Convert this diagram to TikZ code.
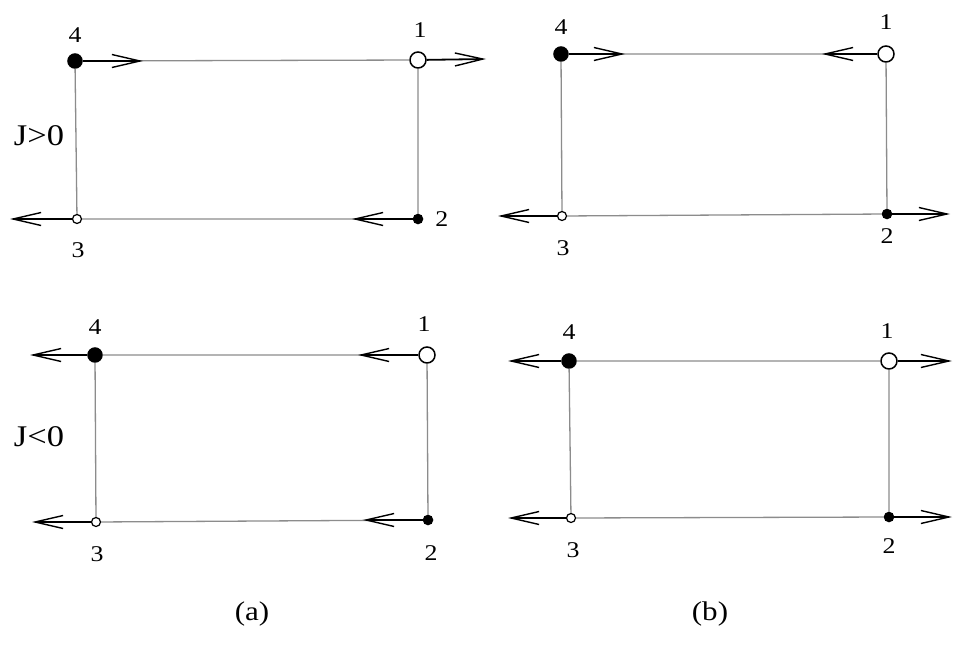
\documentclass[tikz,border=0pt]{standalone}
\usepackage{fontspec}
\setmainfont{Liberation Serif}[FakeStretch=1.15]
\usetikzlibrary{arrows.meta,positioning}
\definecolor{bondgray}{HTML}{8C8C8C}
\tikzset{
  site/.style={circle, draw, line width=1.5pt, inner sep=0pt},
  bigfull/.style={site, fill=black, minimum size=14pt},
  bigopen/.style={site, fill=white, minimum size=16pt},
  smallfull/.style={site, fill=black, minimum size=9pt},
  smallopen/.style={site, fill=white, line width=1.2pt, minimum size=9pt},
  num/.style={inner sep=0pt, font=\fontsize{22.5}{22.5}\selectfont},
  sign/.style={inner sep=0pt, font=\fontsize{30}{30}\selectfont},
  panel/.style={inner sep=0pt, font=\fontsize{27}{27}\selectfont},
  bond/.style={bondgray, line width=1.3pt},
  spin/.style={line width=1.8pt, -{Straight Barb[length=28pt, width=13pt, line width=1.4pt]}},
}
\begin{document}
\begin{tikzpicture}[x=1pt, y=-1pt]
  \fill[white] (0,0) rectangle (959,645);
  \useasboundingbox (0,0) rectangle (959,645);

  % (a), J>0
  \node[bigfull]   (pa4) at (75,61) {};
  \node[bigopen]   (pa1) at (418,60) {};
  \node[smallopen] (pa3) at (77,219) {};
  \node[smallfull] (pa2) at (418,219) {};
  \node[num, above=10.5pt of pa4] (pa4l) {4};
  \node[num, above=14pt of pa1, xshift=2pt] (pa1l) {1};
  \node[num, below=18pt of pa3, xshift=1pt] (pa3l) {3};
  \node[num, right=12pt of pa2] (pa2l) {2};
  \coordinate (pa4t) at (143,61);
  \coordinate (pa1t) at (486,59);
  \coordinate (pa3t) at (10,219);
  \coordinate (pa2t) at (352,219);
  \draw[bond] (pa4) -- (pa1) -- (pa2) -- (pa3) -- (pa4);
  \draw[spin] (pa4) -- (pa4t);
  \draw[spin] (pa1) -- (pa1t);
  \draw[spin] (pa3) -- (pa3t);
  \draw[spin] (pa2) -- (pa2t);
  \node[sign] (jpos) at (39,136) {J>0};

  % (b), J>0
  \node[bigfull]   (pb4) at (561,54) {};
  \node[bigopen]   (pb1) at (886,54) {};
  \node[smallopen] (pb3) at (562,216) {};
  \node[smallfull] (pb2) at (887,214) {};
  \node[num, above=11.5pt of pb4] (pb4l) {4};
  \node[num, above=16pt of pb1] (pb1l) {1};
  \node[num, below=19pt of pb3, xshift=1pt] (pb3l) {3};
  \node[num, below=9.5pt of pb2] (pb2l) {2};
  \coordinate (pb4t) at (625,54);
  \coordinate (pb1t) at (822,54);
  \coordinate (pb3t) at (498,216);
  \coordinate (pb2t) at (950,214);
  \draw[bond] (pb4) -- (pb1) -- (pb2) -- (pb3) -- (pb4);
  \draw[spin] (pb4) -- (pb4t);
  \draw[spin] (pb1) -- (pb1t);
  \draw[spin] (pb3) -- (pb3t);
  \draw[spin] (pb2) -- (pb2t);

  % (a), J<0
  \node[bigfull]   (ma4) at (95,355) {};
  \node[bigopen]   (ma1) at (427,355) {};
  \node[smallopen] (ma3) at (96,522) {};
  \node[smallfull] (ma2) at (428,520) {};
  \node[num, above=12.5pt of ma4] (ma4l) {4};
  \node[num, above=15pt of ma1, xshift=-3pt] (ma1l) {1};
  \node[num, below=19pt of ma3, xshift=1pt] (ma3l) {3};
  \node[num, below=20.5pt of ma2, xshift=3pt] (ma2l) {2};
  \coordinate (ma4t) at (30,355);
  \coordinate (ma1t) at (358,355);
  \coordinate (ma3t) at (32,522);
  \coordinate (ma2t) at (363,520);
  \draw[bond] (ma4) -- (ma1) -- (ma2) -- (ma3) -- (ma4);
  \draw[spin] (ma4) -- (ma4t);
  \draw[spin] (ma1) -- (ma1t);
  \draw[spin] (ma3) -- (ma3t);
  \draw[spin] (ma2) -- (ma2t);
  \node[sign] (jneg) at (39,437) {J<0};

  % (b), J<0
  \node[bigfull]   (mb4) at (569,361) {};
  \node[bigopen]   (mb1) at (889,361) {};
  \node[smallopen] (mb3) at (571,518) {};
  \node[smallfull] (mb2) at (889,517) {};
  \node[num, above=13.5pt of mb4] (mb4l) {4};
  \node[num, above=14pt of mb1, xshift=-2pt] (mb1l) {1};
  \node[num, below=19pt of mb3, xshift=2pt] (mb3l) {3};
  \node[num, below=16.5pt of mb2] (mb2l) {2};
  \coordinate (mb4t) at (508,361);
  \coordinate (mb1t) at (952,361);
  \coordinate (mb3t) at (508,518);
  \coordinate (mb2t) at (952,517);
  \draw[bond] (mb4) -- (mb1) -- (mb2) -- (mb3) -- (mb4);
  \draw[spin] (mb4) -- (mb4t);
  \draw[spin] (mb1) -- (mb1t);
  \draw[spin] (mb3) -- (mb3t);
  \draw[spin] (mb2) -- (mb2t);

  % captions
  \node[panel] (capa) at (252,614) {(a)};
  \node[panel] (capb) at (710,614) {(b)};
\end{tikzpicture}
\end{document}
